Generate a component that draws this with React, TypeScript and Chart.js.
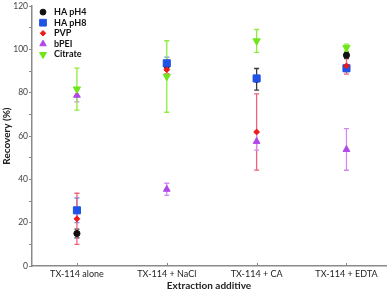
import React, { useEffect, useRef } from 'react';
import { Chart, registerables } from 'chart.js';
import { drawPoint } from 'chart.js/helpers';

Chart.register(...registerables);

const categories = ['TX-114 alone', 'TX-114 + NaCl', 'TX-114 + CA', 'TX-114 + EDTA'];
const seriesNames = ['HA pH4', 'HA pH8', 'PVP', 'bPEI', 'Citrate'];
const haPh4 = [15, 92.7, 86.2, 97.3];
const haPh4Err = [2, 1.5, 5, 1.5];
const haPh8 = [25.7, 93.6, 86.6, 91.3];
const haPh8Err = [5.7, 2.8, 1, 1.5];
const pvp = [21.8, 90.6, 61.9, 92.4];
const pvpErr = [11.8, 1.8, 17.6, 3.8];
const bpei = [78.8, 35.4, 57.5, 53.8];
const bpeiErr = [3, 2.8, 4, 9.6];
const citrate = [81.7, 87.5, 103.9, 100.8];
const citrateErr = [9.7, 16.5, 5.3, 1.6];
const yTickValues = [0, 20, 40, 60, 80, 100, 120];

const values = [haPh4, haPh8, pvp, bpei, citrate];
const errors = [haPh4Err, haPh8Err, pvpErr, bpeiErr, citrateErr];

const styles = [
  { color: '#111111', err: '#3a3a3a', pointStyle: 'circle', radius: 3.1, rotation: 0 },
  { color: '#1f52e6', err: '#6f8ff0', pointStyle: 'rect', radius: 5.0, rotation: 0 },
  { color: '#ee1a1a', err: '#f2607a', pointStyle: 'rectRot', radius: 2.9, rotation: 0 },
  { color: '#b048e8', err: '#d489f2', pointStyle: 'triangle', radius: 3.9, rotation: 0 },
  { color: '#6fe61a', err: '#8eec3e', pointStyle: 'triangle', radius: 4.2, rotation: 180 },
];

const overlayPlugin = {
  id: 'overlay',
  beforeDatasetsDraw(chart: any) {
    const { ctx, scales } = chart;
    const x = scales.x;
    const y = scales.y;
    ctx.save();
    values.forEach((vals, si) => {
      ctx.strokeStyle = styles[si].err;
      ctx.lineWidth = 1.3;
      vals.forEach((v, i) => {
        const e = errors[si][i];
        const px = x.getPixelForValue(i);
        const top = y.getPixelForValue(v + e);
        const bot = y.getPixelForValue(v - e);
        ctx.beginPath();
        ctx.moveTo(px, top);
        ctx.lineTo(px, bot);
        ctx.moveTo(px - 2.5, top);
        ctx.lineTo(px + 2.5, top);
        ctx.moveTo(px - 2.5, bot);
        ctx.lineTo(px + 2.5, bot);
        ctx.stroke();
      });
    });
    ctx.restore();
  },
  afterDraw(chart: any) {
    const { ctx, chartArea, scales } = chart;
    const x = scales.x;
    ctx.save();
    ctx.strokeStyle = '#888888';
    ctx.lineWidth = 1;
    categories.forEach((_, i) => {
      const px = Math.round(x.getPixelForValue(i)) + 0.5;
      ctx.beginPath();
      ctx.moveTo(px, chartArea.bottom);
      ctx.lineTo(px, chartArea.bottom - 3);
      ctx.stroke();
    });
    const lx = chartArea.left + 11;
    const ly = chartArea.top + 6;
    seriesNames.forEach((name, i) => {
      const s = styles[i];
      const cy = ly + i * 10.6;
      ctx.fillStyle = s.color;
      ctx.strokeStyle = s.color;
      ctx.lineWidth = 1;
      drawPoint(ctx, { pointStyle: s.pointStyle, radius: s.radius * 0.95, rotation: s.rotation, borderWidth: 1 } as any, lx, cy);
      ctx.fillStyle = '#111111';
      ctx.font = 'bold 9px Lato';
      ctx.textAlign = 'left';
      ctx.textBaseline = 'middle';
      ctx.fillText(name, lx + 11, cy);
    });
    ctx.restore();
  },
};

export default function App() {
  const ref = useRef<HTMLCanvasElement | null>(null);
  useEffect(() => {
    if (!ref.current) return;
    Chart.defaults.font.family = 'Lato';
    const datasets = seriesNames.map((name, si) => ({
      label: name,
      data: values[si].map((v, i) => ({ x: i, y: v })),
      backgroundColor: styles[si].color,
      borderColor: styles[si].color,
      pointStyle: styles[si].pointStyle as any,
      pointRadius: styles[si].radius,
      pointRotation: styles[si].rotation,
      pointBorderWidth: 1,
      showLine: false,
      order: seriesNames.length - 1 - si,
    }));
    const chart = new Chart(ref.current, {
      type: 'scatter',
      data: { datasets },
      plugins: [overlayPlugin],
      options: {
        animation: false,
        responsive: false,
        devicePixelRatio: 1,
        layout: { padding: { top: 5, right: 2, left: 0, bottom: 0 } },
        plugins: { legend: { display: false }, tooltip: { enabled: false } },
        scales: {
          x: {
            type: 'linear',
            min: -0.5,
            max: 3.44,
            afterBuildTicks: (s: any) => {
              s.ticks = categories.map((_, i) => ({ value: i }));
            },
            afterFit: (s: any) => {
              s.height = 26;
            },
            ticks: {
              autoSkip: false,
              maxRotation: 0,
              padding: 3,
              color: '#222222',
              font: { family: 'Lato', size: 9 },
              callback: (v: any) => categories[v] ?? '',
            },
            grid: { display: true, drawOnChartArea: false, drawTicks: false },
            border: { display: true, color: '#8a8a8a', width: 1.5 },
            title: {
              display: true,
              text: 'Extraction additive',
              color: '#222222',
              font: { family: 'Lato', size: 10, weight: 'bold' },
              padding: 0,
            },
          },
          y: {
            type: 'linear',
            min: 0,
            max: 120,
            afterBuildTicks: (s: any) => {
              const t: any[] = [];
              for (let v = yTickValues[0]; v <= yTickValues[yTickValues.length - 1]; v += 10) t.push({ value: v });
              s.ticks = t;
            },
            afterFit: (s: any) => {
              s.width = 32;
            },
            ticks: {
              padding: 1,
              color: '#444444',
              font: { family: 'Lato', size: 8.5 },
              callback: (v: any) => (yTickValues.includes(v) ? String(v) : ''),
            },
            grid: { display: true, drawOnChartArea: false, drawTicks: true, tickLength: 3, color: '#8a8a8a' },
            border: { display: true, color: '#8a8a8a', width: 1.5 },
            title: {
              display: true,
              text: 'Recovery (%)',
              color: '#222222',
              font: { family: 'Lato', size: 10, weight: 'bold' },
              padding: { top: 1, bottom: 0 },
            },
          },
        },
      },
    });
    return () => chart.destroy();
  }, []);
  return (
    <div style={{ position: 'fixed', left: 0, top: 0, width: 392, height: 292, background: '#ffffff' }}>
      <canvas ref={ref} width={392} height={292} style={{ width: 392, height: 292, display: 'block' }} />
    </div>
  );
}
